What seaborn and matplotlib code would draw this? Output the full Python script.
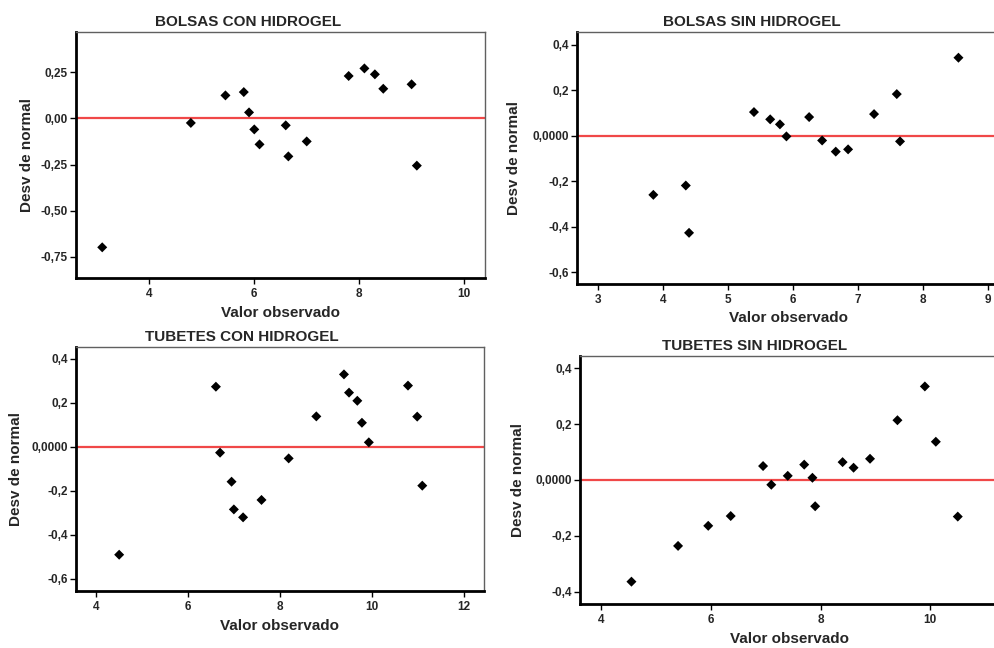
import matplotlib
matplotlib.use("Agg")
import matplotlib.pyplot as plt
import seaborn as sns
import pandas as pd
from matplotlib.ticker import FixedLocator, FixedFormatter

sns.set_style("white")
plt.rcParams["font.family"] = ["Liberation Sans", "DejaVu Sans"]
plt.rcParams["font.weight"] = "bold"

# Observed value vs. deviation from normal, four treatments
titles = ["BOLSAS CON HIDROGEL", "BOLSAS SIN HIDROGEL",
          "TUBETES CON HIDROGEL", "TUBETES SIN HIDROGEL"]

bolsas_con_x = [3.10, 4.79, 5.45, 5.80, 5.90, 6.00, 6.10, 6.60, 6.65, 7.00,
                7.80, 8.10, 8.30, 8.46, 9.00, 9.10]
bolsas_con_y = [-0.698, -0.025, 0.124, 0.142, 0.032, -0.060, -0.141, -0.038,
                -0.206, -0.125, 0.229, 0.270, 0.238, 0.160, 0.184, -0.256]

bolsas_sin_x = [3.85, 4.35, 4.40, 5.40, 5.65, 5.80, 5.90, 6.25, 6.45, 6.66,
                6.85, 7.25, 7.60, 7.65, 8.55]
bolsas_sin_y = [-0.260, -0.219, -0.427, 0.104, 0.072, 0.050, -0.003, 0.082,
                -0.021, -0.070, -0.060, 0.095, 0.183, -0.025, 0.343]

tubetes_con_x = [4.51, 6.61, 6.70, 6.95, 7.00, 7.20, 7.60, 8.19, 8.79, 9.39,
                 9.50, 9.68, 9.78, 9.93, 10.78, 10.98, 11.09]
tubetes_con_y = [-0.490, 0.274, -0.026, -0.158, -0.284, -0.320, -0.241, -0.052,
                 0.139, 0.330, 0.247, 0.210, 0.110, 0.021, 0.279, 0.138, -0.176]

tubetes_sin_x = [4.55, 5.40, 5.95, 6.36, 6.95, 7.10, 7.40, 7.70, 7.85, 7.90,
                 8.40, 8.60, 8.90, 9.40, 9.90, 10.10, 10.50]
tubetes_sin_y = [-0.364, -0.236, -0.164, -0.129, 0.050, -0.017, 0.015, 0.055,
                 0.008, -0.094, 0.064, 0.044, 0.076, 0.214, 0.335, 0.137, -0.131]

xticks = [[4, 6, 8, 10], [3, 4, 5, 6, 7, 8, 9], [4, 6, 8, 10, 12], [4, 6, 8, 10]]
yticks_a = [-0.75, -0.50, -0.25, 0.0, 0.25]
ylabels_a = ["-0,75", "-0,50", "-0,25", "0,00", "0,25"]
yticks_b = [-0.6, -0.4, -0.2, 0.0, 0.2, 0.4]
ylabels_b = ["-0,6", "-0,4", "-0,2", "0,0000", "0,2", "0,4"]

W, H = 994, 648
fig = plt.figure(figsize=(W / 100, H / 100), dpi=100)

# pixel boxes: left, top, right, bottom
boxes = [(76, 32, 485, 278), (577, 32, 1000, 284),
         (76, 347, 484, 591), (580, 356, 1000, 604)]
xlims = [(2.60, 10.40), (2.674, 9.19), (3.573, 12.43), (3.612, 11.27)]
ylims = [(-0.864, 0.467), (-0.652, 0.456), (-0.655, 0.4545), (-0.444, 0.444)]
title_pos = [(248, 22), (752, 22), (242, 337), (755, 346)]
ylab_pos = [27, 514, 16, 518]
xlab_pos = [313, 318, 626, 639]

data = [(bolsas_con_x, bolsas_con_y), (bolsas_sin_x, bolsas_sin_y),
        (tubetes_con_x, tubetes_con_y), (tubetes_sin_x, tubetes_sin_y)]

for i, (xs, ys) in enumerate(data):
    l, t, r, b = boxes[i]
    ax = fig.add_axes([l / W, 1 - b / H, (r - l) / W, (b - t) / H])
    df = pd.DataFrame({"obs": xs, "dev": ys})
    ax.axhline(0, color="#f04848", lw=1.6, zorder=1)
    sns.scatterplot(data=df, x="obs", y="dev", marker="D", color="black",
                    s=26, edgecolor="none", ax=ax, zorder=3)
    ax.set_xlim(*xlims[i])
    ax.set_ylim(*ylims[i])
    ax.xaxis.set_major_locator(FixedLocator(xticks[i]))
    ax.set_xticklabels([str(v) for v in xticks[i]])
    if i == 0:
        ax.yaxis.set_major_locator(FixedLocator(yticks_a))
        ax.yaxis.set_major_formatter(FixedFormatter(ylabels_a))
    else:
        ax.yaxis.set_major_locator(FixedLocator(yticks_b))
        ax.yaxis.set_major_formatter(FixedFormatter(ylabels_b))
    ax.tick_params(axis="both", which="major", direction="out", length=4,
                   width=1, color="black", labelsize=8.5, pad=2,
                   bottom=True, left=True, top=False, right=False)
    ax.tick_params(axis="x", pad=3)
    for lab in ax.get_xticklabels() + ax.get_yticklabels():
        lab.set_fontweight("bold")
    for side in ("left", "bottom"):
        ax.spines[side].set_color("black")
        ax.spines[side].set_linewidth(2.0)
    for side in ("top", "right"):
        ax.spines[side].set_color("#606060")
        ax.spines[side].set_linewidth(1.0)

    ax.set_xlabel("Valor observado", fontsize=11, fontweight="bold")
    ax.set_ylabel("Desv de normal", fontsize=11, fontweight="bold")
    ax.xaxis.label.set_va("center")
    ax.yaxis.label.set_va("center")
    ax.xaxis.set_label_coords(((l + r) / 2 - l) / (r - l),
                              (b - xlab_pos[i]) / (b - t))
    ax.yaxis.set_label_coords((ylab_pos[i] - l) / (r - l), 0.5)

    tx, ty = title_pos[i]
    fig.text(tx / W, 1 - ty / H, titles[i], ha="center", va="center",
             fontsize=11, fontweight="bold")

fig.savefig("out.png", dpi=100)
